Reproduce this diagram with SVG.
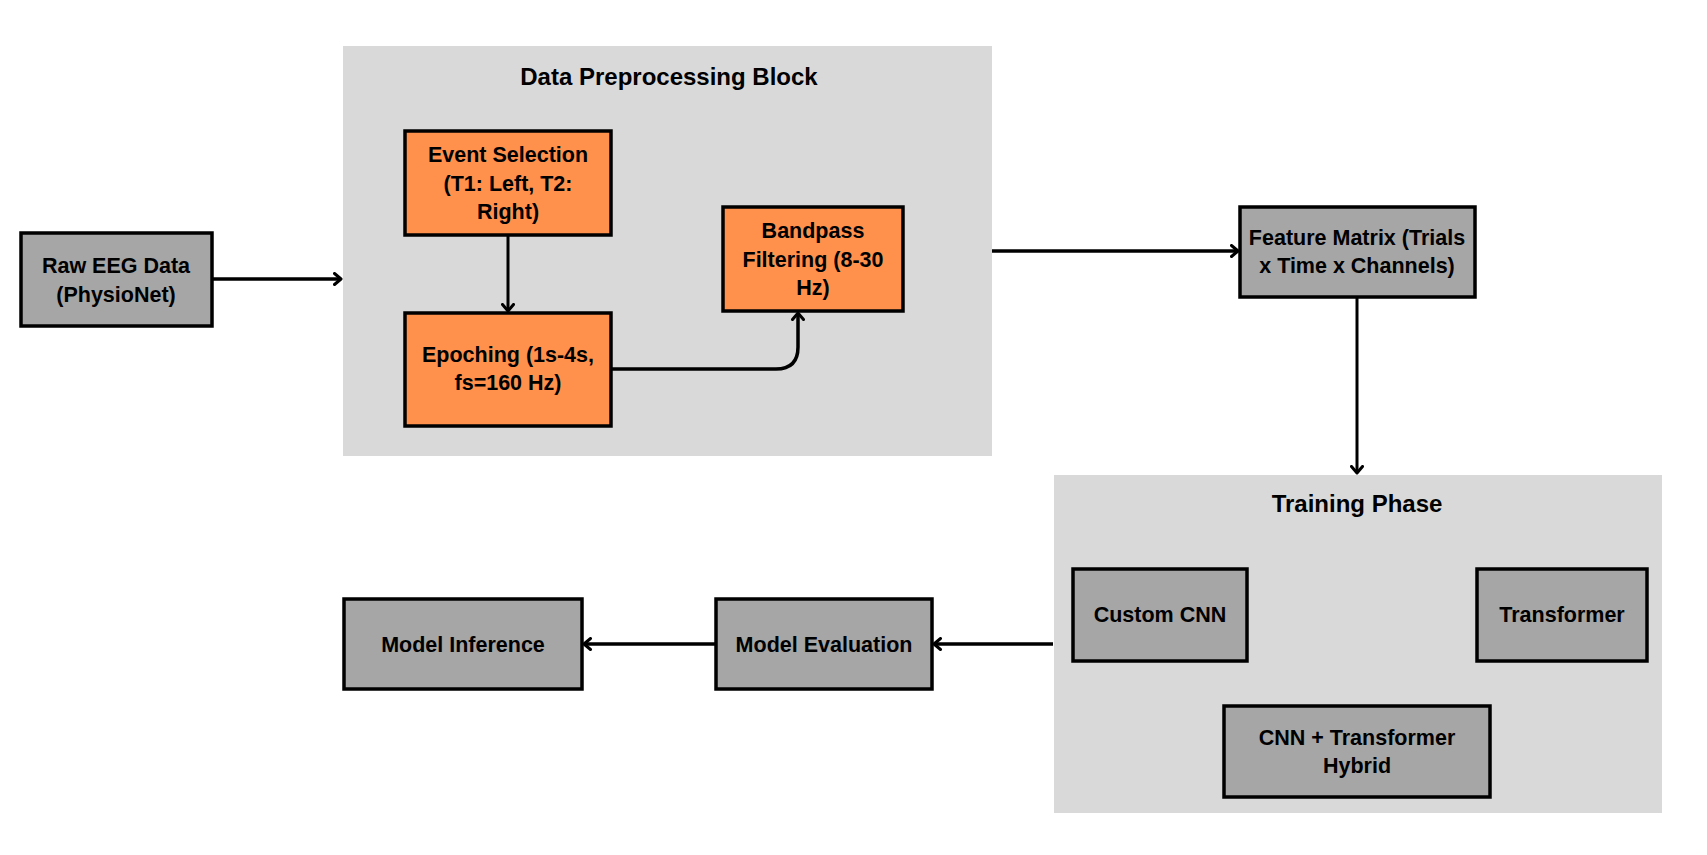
<svg xmlns="http://www.w3.org/2000/svg" width="1707" height="855" viewBox="0 0 1707 855">
<style>
.bg{fill:#d9d9d9}
.org{fill:#ff914d;stroke:#000;stroke-width:3.5}
.gry{fill:#a6a6a6;stroke:#000;stroke-width:3.5}
text{font-family:"Liberation Sans",Arial,sans-serif;font-weight:bold;fill:#000;text-anchor:middle}
.t{font-size:21.5px}
.h{font-size:24px}
.c{fill:none;stroke:#000;stroke-width:3.5}
.c2{fill:none;stroke:#000;stroke-width:3}
</style>
<defs>
<marker id="ah" viewBox="0 0 10 14" refX="8.5" refY="7" markerWidth="10" markerHeight="14" markerUnits="userSpaceOnUse" orient="auto">
<path d="M2,1.5 L8.5,7 L2,12.5" fill="none" stroke="#000" stroke-width="3" stroke-linecap="round" stroke-linejoin="round"/>
</marker>
</defs>
<rect width="1707" height="855" fill="#fff"/>
<g id="preprocessing-block">
<rect class="bg" x="343" y="46" width="649" height="410"/>
<text class="h" x="669" y="85">Data Preprocessing Block</text>
</g>
<g id="training-phase">
<rect class="bg" x="1054" y="475" width="608" height="338"/>
<text class="h" x="1357" y="512">Training Phase</text>
</g>
<g id="connectors">
<path class="c" d="M212,279 H341" marker-end="url(#ah)"/>
<path class="c2" d="M508,235 V311" marker-end="url(#ah)"/>
<path class="c" d="M611,369 H776 Q798,369 798,347 V313" marker-end="url(#ah)"/>
<path class="c" d="M992,251 H1238" marker-end="url(#ah)"/>
<path class="c2" d="M1357,297 V473" marker-end="url(#ah)"/>
<path class="c" d="M1053,644 H934" marker-end="url(#ah)"/>
<path class="c" d="M716,644 H584" marker-end="url(#ah)"/>
</g>
<g id="raw-eeg">
<rect class="gry" x="21" y="233" width="191" height="93"/>
<text class="t" x="116" y="273">Raw EEG Data</text>
<text class="t" x="116" y="302">(PhysioNet)</text>
</g>
<g id="event-selection">
<rect class="org" x="405" y="131" width="206" height="104"/>
<text class="t" x="508" y="162">Event Selection</text>
<text class="t" x="508" y="191">(T1: Left, T2:</text>
<text class="t" x="508" y="219">Right)</text>
</g>
<g id="epoching">
<rect class="org" x="405" y="313" width="206" height="113"/>
<text class="t" x="508" y="362">Epoching (1s-4s,</text>
<text class="t" x="508" y="390">fs=160 Hz)</text>
</g>
<g id="bandpass">
<rect class="org" x="723" y="207" width="180" height="104"/>
<text class="t" x="813" y="238">Bandpass</text>
<text class="t" x="813" y="267">Filtering (8-30</text>
<text class="t" x="813" y="295">Hz)</text>
</g>
<g id="feature-matrix">
<rect class="gry" x="1240" y="207" width="235" height="90"/>
<text class="t" x="1357" y="245">Feature Matrix (Trials</text>
<text class="t" x="1357" y="273">x Time x Channels)</text>
</g>
<g id="custom-cnn">
<rect class="gry" x="1073" y="569" width="174" height="92"/>
<text class="t" x="1160" y="622">Custom CNN</text>
</g>
<g id="transformer">
<rect class="gry" x="1477" y="569" width="170" height="92"/>
<text class="t" x="1562" y="622">Transformer</text>
</g>
<g id="hybrid">
<rect class="gry" x="1224" y="706" width="266" height="91"/>
<text class="t" x="1357" y="745">CNN + Transformer</text>
<text class="t" x="1357" y="773">Hybrid</text>
</g>
<g id="model-evaluation">
<rect class="gry" x="716" y="599" width="216" height="90"/>
<text class="t" x="824" y="652">Model Evaluation</text>
</g>
<g id="model-inference">
<rect class="gry" x="344" y="599" width="238" height="90"/>
<text class="t" x="463" y="652">Model Inference</text>
</g>
</svg>
